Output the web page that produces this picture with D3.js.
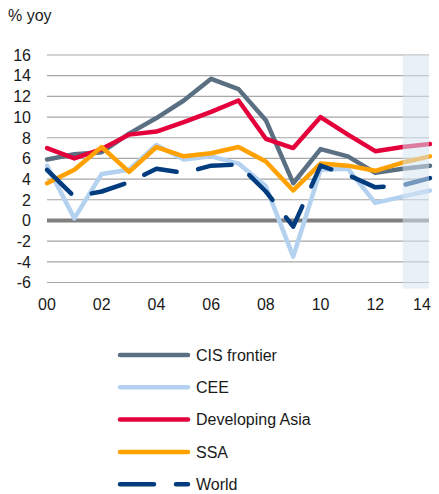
<!DOCTYPE html>
<html>
<head>
<meta charset="utf-8">
<style>
  body { margin: 0; background: #fff; }
  text { font-family: "Liberation Sans", Arial, sans-serif; fill: #1a1a1a; }
</style>
</head>
<body>
<div id="chart"></div>
<script src="https://cdn.jsdelivr.net/npm/d3@7"></script>
<script>
  const years = [2000, 2001, 2002, 2003, 2004, 2005, 2006, 2007, 2008, 2009, 2010, 2011, 2012, 2013, 2014];
  const yTicks = [-6, -4, -2, 0, 2, 4, 6, 8, 10, 12, 14, 16];
  const xTicks = [2000, 2002, 2004, 2006, 2008, 2010, 2012, 2014];
  const forecastStart = 2013;

  const cisFrontier = [5.9, 6.4, 6.6, 8.4, 9.9, 11.6, 13.7, 12.7, 9.7, 3.6, 6.9, 6.2, 4.6, 5.0, 5.3];
  const cee = [5.3, 0.2, 4.5, 4.9, 7.3, 5.9, 6.2, 5.5, 3.3, -3.5, 4.9, 5.0, 1.7, 2.3, 2.9];
  const developingAsia = [7.0, 6.0, 6.9, 8.3, 8.6, 9.5, 10.5, 11.6, 7.9, 7.0, 10.0, 8.3, 6.7, 7.1, 7.4];
  const ssa = [3.6, 4.9, 7.1, 4.7, 7.1, 6.2, 6.5, 7.1, 5.7, 2.9, 5.5, 5.3, 4.8, 5.6, 6.2];
  const world = [4.9, 2.3, 2.8, 3.7, 5.0, 4.6, 5.3, 5.4, 2.8, -0.6, 5.3, 4.4, 3.2, 3.4, 4.1];

  const series = [
    {name: "CIS frontier", values: cisFrontier, color: "#5b6f83", dash: null},
    {name: "CEE", values: cee, color: "#b4d2f0", dash: null},
    {name: "Developing Asia", values: developingAsia, color: "#e4003b", dash: null},
    {name: "SSA", values: ssa, color: "#ffa100", dash: null},
    {name: "World", values: world, color: "#003c7e", dash: "34,22"}
  ];

  const width = 439, height = 494;
  const x = d3.scaleLinear().domain([2000, 2014]).range([47, 430]);
  const y = d3.scaleLinear().domain([-6, 16]).range([282.5, 55]);

  const svg = d3.select("#chart").append("svg")
    .attr("width", width).attr("height", height);

  svg.append("text").attr("x", 8).attr("y", 21)
    .style("font-size", "16px").text("% yoy");

  // gridlines
  svg.append("g").selectAll("line").data(yTicks.filter(d => d !== 0)).join("line")
    .attr("x1", 47).attr("x2", 429)
    .attr("y1", d => y(d)).attr("y2", d => y(d))
    .attr("stroke", "#a6a6a6").attr("stroke-width", 1.2);

  svg.append("g").selectAll("text").data(yTicks).join("text")
    .attr("x", 31).attr("y", d => y(d) + 5.8)
    .attr("text-anchor", "end").style("font-size", "16px")
    .text(d => d);

  svg.append("g").selectAll("text").data(xTicks).join("text")
    .attr("x", d => d === 2014 ? x(d) - 8 : x(d)).attr("y", 310)
    .attr("text-anchor", "middle").style("font-size", "16px")
    .text(d => String(d).slice(2));

  // zero line
  svg.append("line")
    .attr("x1", 47).attr("x2", 429)
    .attr("y1", y(0)).attr("y2", y(0))
    .attr("stroke", "#7f7f7f").attr("stroke-width", 4);

  const line = d3.line().x((d, i) => x(years[i])).y(d => y(d));

  svg.append("g").selectAll("path").data(series).join("path")
    .attr("d", d => line(d.values))
    .attr("fill", "none")
    .attr("stroke", d => d.color)
    .attr("stroke-width", 4.5)
    .attr("stroke-linecap", "round")
    .attr("stroke-linejoin", "round")
    .attr("stroke-dasharray", d => d.dash);

  // forecast shading, drawn over the lines
  svg.append("rect")
    .attr("x", x(forecastStart)).attr("width", 429 - x(forecastStart))
    .attr("y", y(16)).attr("height", y(-6) - y(16) + 6)
    .attr("fill", "rgb(214,228,243)").attr("opacity", 0.55);

  // legend
  const legend = svg.append("g").selectAll("g").data(series).join("g")
    .attr("transform", (d, i) => `translate(0, ${355 + i * 32.3})`);
  legend.append("line")
    .attr("x1", 120).attr("x2", 188)
    .attr("stroke", d => d.color).attr("stroke-width", 4.5)
    .attr("stroke-linecap", "round")
    .attr("stroke-dasharray", d => d.dash);
  legend.append("text").attr("x", 196).attr("y", 5.8)
    .style("font-size", "16px").text(d => d.name);
</script>
</body>
</html>
